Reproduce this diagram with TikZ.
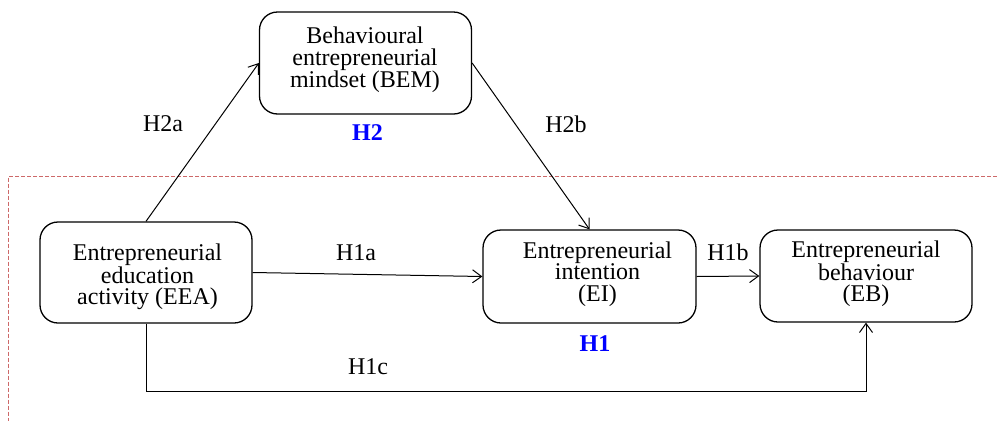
\documentclass[tikz,border=0pt]{standalone}
\usepackage{fontspec}
\setmainfont{Liberation Serif}
\usetikzlibrary{arrows.meta}
\definecolor{dashred}{RGB}{205,105,105}
\definecolor{hblue}{RGB}{0,0,255}
\begin{document}
\begin{tikzpicture}[x=1pt,y=-1pt,
  box/.style={draw=black,line width=1.3pt,rounded corners=18pt,inner sep=0pt},
  txt/.style={align=center,inner sep=0pt,font=\fontsize{24}{21.5}\selectfont},
  lbl/.style={inner sep=0pt,font=\fontsize{24}{21.5}\selectfont},
  hyp/.style={inner sep=0pt,text=hblue,font=\fontsize{24}{21.5}\selectfont\bfseries},
  conn/.style={draw=black,line width=1pt,-{Straight Barb[length=9pt,width=13pt,line width=1pt]}},
  frame/.style={draw=dashred,line width=1pt,dash pattern=on 4pt off 2pt}]
\useasboundingbox (0,0) rectangle (997,421);
% dashed frame
\coordinate (ftr) at (997,176.5);
\coordinate (ftl) at (8,176.5);
\coordinate (fbl) at (8,421);
\draw[frame] (ftr) -- (ftl) -- (fbl);
% boxes
\node[box,minimum width=212pt,minimum height=102pt] (bem) at (365.5,63) {};
\node[box,minimum width=212pt,minimum height=101pt] (eea) at (146,272.5) {};
\node[box,minimum width=213pt,minimum height=93pt] (ei) at (589.5,276.5) {};
\node[box,minimum width=212pt,minimum height=92pt] (eb) at (866,276) {};
% texts
\node[txt] (tbem) at (365,60) {Behavioural\\entrepreneurial\\mindset (BEM)};
\node[txt] (teea) at (147.5,277) {Entrepreneurial\\education\\activity (EEA)};
\node[txt] (tei) at (597.5,274) {Entrepreneurial\\intention\\(EI)};
\node[txt] (teb) at (866,274) {Entrepreneurial\\behaviour\\(EB)};
% connectors
\draw[conn] (eea.north) -- (bem.west);
\draw[conn] (bem.east) -- (ei.north);
\draw[conn] (eea.east) -- (ei.west);
\draw[conn] (ei.east) -- (eb.west);
\coordinate (cbl) at (146,391);
\draw[conn] (eea.south) -- (cbl) -| (eb.south);
% labels
\node[lbl] (lh2a) at (163,124) {H2a};
\node[lbl] (lh2b) at (566,124) {H2b};
\node[lbl] (lh1a) at (356,253) {H1a};
\node[lbl] (lh1b) at (728,252) {H1b};
\node[lbl] (lh1c) at (368,367) {H1c};
\node[hyp] (lh2) at (367.5,133) {H2};
\node[hyp] (lh1) at (595,344) {H1};
\end{tikzpicture}
\end{document}
